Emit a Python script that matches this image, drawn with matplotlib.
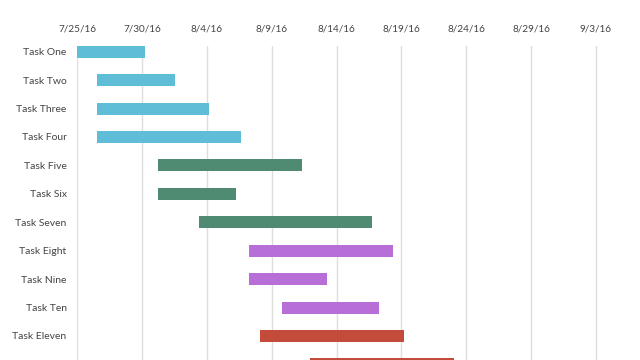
import matplotlib
matplotlib.use("Agg")
import matplotlib.pyplot as plt
import matplotlib.dates as mdates
from datetime import datetime

plt.rcParams['font.family'] = ['Lato', 'DejaVu Sans']

tasks = ["Task One", "Task Two", "Task Three", "Task Four", "Task Five", "Task Six",
         "Task Seven", "Task Eight", "Task Nine", "Task Ten", "Task Eleven", "Task Twelve"]
starts = ["2016-07-25 00:00", "2016-07-26 13:00", "2016-07-26 13:00", "2016-07-26 13:00",
          "2016-07-31 06:00", "2016-07-31 06:00", "2016-08-03 09:00", "2016-08-07 07:00",
          "2016-08-07 07:00", "2016-08-09 20:00", "2016-08-08 02:00", "2016-08-11 23:00"]
ends = ["2016-07-30 05:00", "2016-08-01 13:00", "2016-08-04 05:00", "2016-08-06 15:00",
        "2016-08-11 08:00", "2016-08-06 06:00", "2016-08-16 18:00", "2016-08-18 08:00",
        "2016-08-13 06:00", "2016-08-17 06:00", "2016-08-19 04:00", "2016-08-23 01:00"]
groups = ["blue", "blue", "blue", "blue", "green", "green", "green",
          "purple", "purple", "purple", "red", "red"]
group_colors = {"blue": "#60BDD7", "green": "#4F8A73", "purple": "#B76FD7", "red": "#C24B3A"}
tick_labels = ["7/25/16", "7/30/16", "8/4/16", "8/9/16", "8/14/16",
               "8/19/16", "8/24/16", "8/29/16", "9/3/16"]

fmt = "%Y-%m-%d %H:%M"
s_num = [mdates.date2num(datetime.strptime(s, fmt)) for s in starts]
e_num = [mdates.date2num(datetime.strptime(e, fmt)) for e in ends]
tick_pos = [mdates.date2num(datetime.strptime(t, "%m/%d/%y")) for t in tick_labels]

fig = plt.figure(figsize=(6.4, 3.6), dpi=100)
ax_left = 77 / 640
ax_top_px = 45.7
ax = fig.add_axes([ax_left, 0, 1 - ax_left, (360 - ax_top_px) / 360])

h = 0.42
for i, (s, e, g) in enumerate(zip(s_num, e_num, groups)):
    ax.barh(i, e - s, left=s, height=h, color=group_colors[g],
            edgecolor="none", zorder=3)

x0 = tick_pos[0]
px_per_day = (596 - 77) / 40
ax.set_xlim(x0, x0 + (640 - 77) / px_per_day)
ax.set_ylim((360 - 52) / 28.4, -h / 2)

ax.xaxis.tick_top()
ax.set_xticks(tick_pos)
ax.set_xticklabels(tick_labels)
# the twelfth row lies below the bottom edge of the picture; its label is not shown
visible = len(tasks) - 1
ax.set_yticks(range(visible))
ax.set_yticklabels(tasks[:visible])
ax.tick_params(axis="x", length=0, pad=9, labelsize=7.2, colors="#444444")
ax.tick_params(axis="y", length=0, pad=7.5, labelsize=7.5, colors="#444444")
ax.grid(axis="x", color="#DDDDDD", linewidth=1, zorder=0)
ax.grid(axis="y", visible=False)
for sp in ax.spines.values():
    sp.set_visible(False)

fig.savefig("out.png", dpi=100)
